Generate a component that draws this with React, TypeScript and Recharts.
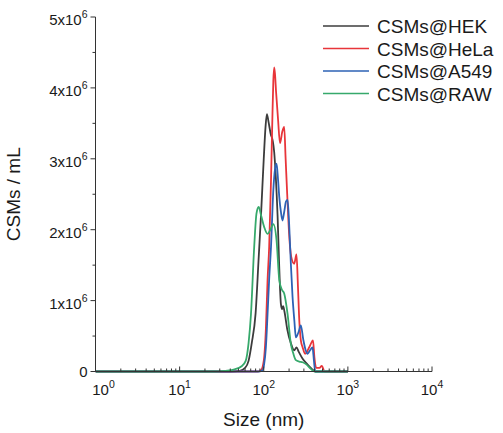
import React from "react";
import { Label, Legend, Line, LineChart, XAxis, YAxis } from "recharts";

// particle size (nm) and concentration (CSMs / mL)
const hekSize = [1, 40, 52, 60, 66, 72, 80, 87, 93, 100, 105, 109, 114, 121, 128, 133, 139, 146, 152, 160, 165, 170, 176, 190, 210, 230, 245, 260, 290, 330, 370, 410, 1000];
const hekValue = [0, 0, 0.01e6, 0.05e6, 0.15e6, 0.4e6, 0.82e6, 1.6e6, 2.23e6, 3.0e6, 3.45e6, 3.63e6, 3.52e6, 3.35e6, 3.25e6, 3.1e6, 2.75e6, 2.2e6, 1.55e6, 0.95e6, 0.88e6, 0.92e6, 0.85e6, 0.6e6, 0.4e6, 0.3e6, 0.34e6, 0.28e6, 0.18e6, 0.1e6, 0.04e6, 0, 0];

const helaSize = [1, 85, 93, 100, 106, 111, 116, 122, 127, 130, 133, 136, 140, 148, 156, 166, 175, 182, 190, 200, 212, 230, 245, 255, 265, 276, 290, 310, 350, 385, 400, 420, 460, 490, 530, 1000];
const helaValue = [0, 0, 0.02e6, 0.15e6, 0.6e6, 1.29e6, 1.76e6, 2.7e6, 3.64e6, 4.1e6, 4.29e6, 4.2e6, 3.95e6, 3.55e6, 3.22e6, 3.38e6, 3.45e6, 3.0e6, 2.5e6, 1.95e6, 1.62e6, 1.52e6, 1.65e6, 1.2e6, 0.7e6, 0.44e6, 0.34e6, 0.25e6, 0.35e6, 0.44e6, 0.2e6, 0.05e6, 0.05e6, 0.08e6, 0, 0];

const a549Size = [1, 88, 97, 101, 106, 111, 116, 122, 130, 136, 142, 148, 153, 160, 167, 175, 184, 192, 200, 210, 220, 231, 241, 258, 276, 295, 315, 331, 355, 380, 395, 410, 1000];
const a549Value = [0, 0, 0.02e6, 0.1e6, 0.34e6, 0.81e6, 1.3e6, 1.76e6, 2.56e6, 2.85e6, 2.93e6, 2.7e6, 2.46e6, 2.25e6, 2.13e6, 2.25e6, 2.4e6, 2.42e6, 2.1e6, 1.52e6, 1.05e6, 0.72e6, 0.48e6, 0.55e6, 0.65e6, 0.45e6, 0.3e6, 0.25e6, 0.3e6, 0.34e6, 0.15e6, 0, 0];

const rawSize = [1, 25, 35, 45, 54, 61, 66, 70.5, 77, 82, 87, 93, 101, 111, 120, 130, 142, 153, 165, 175, 192, 210, 225, 241, 265, 289, 320, 360, 400, 1000];
const rawValue = [0, 0, 0.01e6, 0.03e6, 0.07e6, 0.15e6, 0.4e6, 0.81e6, 1.76e6, 2.23e6, 2.32e6, 2.2e6, 2.04e6, 1.94e6, 2.0e6, 2.08e6, 1.85e6, 1.29e6, 1.15e6, 1.1e6, 0.81e6, 0.39e6, 0.25e6, 0.16e6, 0.14e6, 0.13e6, 0.1e6, 0.04e6, 0, 0];

const seriesNames = ["CSMs@HEK", "CSMs@HeLa", "CSMs@A549", "CSMs@RAW"];
const seriesColors = ["#3c3c3c", "#e8353a", "#2d62b5", "#36a96b"];

const xDecades = [1, 10, 100, 1000, 10000];
const xMinorSteps = [1, 2, 3, 4, 5, 6, 7, 8, 9];
const yTicks = [0, 0.5e6, 1e6, 1.5e6, 2e6, 2.5e6, 3e6, 3.5e6, 4e6, 4.5e6, 5e6];

const FONT = "'Liberation Sans', Arial, sans-serif";
const AXIS = "#333";

const toPoints = (sizes: number[], values: number[]) =>
  sizes.map((s, i) => ({ size: s, value: values[i] }));

const series = [
  toPoints(hekSize, hekValue),
  toPoints(helaSize, helaValue),
  toPoints(a549Size, a549Value),
  toPoints(rawSize, rawValue),
];

const xTicks = [
  ...xDecades.slice(0, -1).flatMap((d) => xMinorSteps.map((m) => m * d)),
  xDecades[xDecades.length - 1],
];

function XTick(props: any) {
  const { x, y, payload } = props;
  const lg = Math.log10(payload.value);
  const exp = Math.round(lg);
  const major = Math.abs(lg - exp) < 1e-6;
  // the 10^0 label sits a bit right of its tick
  const lx = exp === 0 ? x + 8 : x;
  return (
    <g>
      <line x1={x} x2={x} y1={y} y2={y - (major ? 5 : 3)} stroke={AXIS} strokeWidth={1} />
      {major && (
        <text x={lx} y={y + 23} textAnchor="middle" fontSize={15} fontFamily={FONT} fill="#1a1a1a">
          10
          <tspan dy={-7} fontSize={10.5}>{exp}</tspan>
        </text>
      )}
    </g>
  );
}

function YTick(props: any) {
  const { x, y, payload } = props;
  const v = payload.value as number;
  const major = v % 1e6 === 0;
  return (
    <g>
      <line x1={x - (major ? 5 : 3)} x2={x} y1={y} y2={y} stroke={AXIS} strokeWidth={1} />
      {major &&
        (v === 0 ? (
          <text x={x - 8} y={y + 5.5} textAnchor="end" fontSize={15} fontFamily={FONT} fill="#1a1a1a">
            0
          </text>
        ) : (
          <text x={x - 8} y={y + 8} textAnchor="end" fontSize={15} fontFamily={FONT} fill="#1a1a1a">
            {`${v / 1e6}x10`}
            <tspan dy={-7} fontSize={10.5}>6</tspan>
          </text>
        ))}
    </g>
  );
}

function LegendBox() {
  return (
    <svg width={503} height={115} style={{ display: "block" }}>
      {seriesNames.map((name, i) => {
        const cy = 26 + i * 22.5;
        return (
          <g key={name}>
            <line x1={323} x2={369} y1={cy} y2={cy} stroke={seriesColors[i]} strokeWidth={1.6} />
            <text x={377} y={cy + 7} fontSize={19} fontFamily={FONT} fill="#1a1a1a">
              {name}
            </text>
          </g>
        );
      })}
    </svg>
  );
}

export default function App() {
  return (
    <div style={{ position: "fixed", left: 0, top: 0, background: "#fff" }}>
      <LineChart width={503} height={433} margin={{ top: 17, right: 71, bottom: 0, left: 0 }}>
        <XAxis
          dataKey="size"
          type="number"
          scale="log"
          domain={[1, 10000]}
          allowDataOverflow
          ticks={xTicks}
          interval={0}
          tick={<XTick />}
          tickLine={false}
          tickSize={0}
          tickMargin={0}
          height={61.5}
          axisLine={{ stroke: AXIS, strokeWidth: 1 }}
        >
          <Label
            content={(p: any) => {
              const vb = p.viewBox;
              return (
                <text x={vb.x + vb.width / 2} y={vb.y + 54} textAnchor="middle" fontSize={19} fontFamily={FONT} fill="#1a1a1a">
                  Size (nm)
                </text>
              );
            }}
          />
        </XAxis>
        <YAxis
          type="number"
          domain={[0, 5e6]}
          ticks={yTicks}
          interval={0}
          tick={<YTick />}
          tickLine={false}
          tickSize={0}
          tickMargin={0}
          width={95.5}
          axisLine={{ stroke: AXIS, strokeWidth: 1 }}
        >
          <Label
            content={(p: any) => {
              const vb = p.viewBox;
              const cx = 20;
              const cy = vb.y + vb.height / 2;
              return (
                <text x={cx} y={cy} transform={`rotate(-90 ${cx} ${cy})`} textAnchor="middle" fontSize={19} fontFamily={FONT} fill="#1a1a1a">
                  CSMs / mL
                </text>
              );
            }}
          />
        </YAxis>
        <Legend
          layout="vertical"
          align="center"
          verticalAlign="middle"
          wrapperStyle={{ left: 0, top: 0, width: 503, height: 115 }}
          content={() => <LegendBox />}
        />
        {series.map((data, i) => (
          <Line
            key={seriesNames[i]}
            data={data}
            dataKey="value"
            name={seriesNames[i]}
            type="monotone"
            stroke={seriesColors[i]}
            strokeWidth={1.8}
            dot={false}
            activeDot={false}
            isAnimationActive={false}
          />
        ))}
      </LineChart>
    </div>
  );
}
